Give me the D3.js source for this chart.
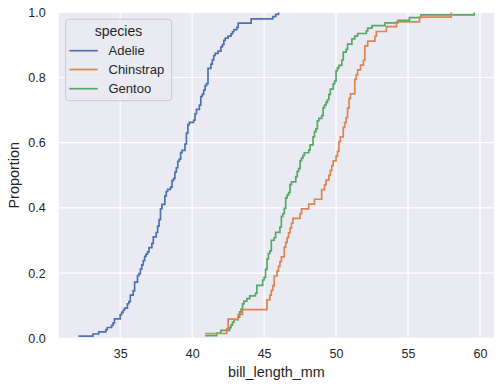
<html>
<head>
<script src="https://d3js.org/d3.v7.min.js"></script>
<style>
    body { margin: 0; background: #fff; }
    text { font-family: "Liberation Sans", Arial, sans-serif; fill: #262626; }
</style>
</head>
<body>
<div id="chart"></div>
<script>
    // bill_length_mm values per species
    const species = ['Adelie', 'Chinstrap', 'Gentoo'];
    const colors = ['#4c72b0', '#dd8452', '#55a868'];

    const adelie = [39.1, 39.5, 40.3, 36.7, 39.3, 38.9, 39.2, 34.1, 42, 37.8,
        37.8, 41.1, 38.6, 34.6, 36.6, 38.7, 42.5, 34.4, 46, 37.8,
        37.7, 35.9, 38.2, 38.8, 35.3, 40.6, 40.5, 37.9, 40.5, 39.5,
        37.2, 39.5, 40.9, 36.4, 39.2, 38.8, 42.2, 37.6, 39.8, 36.5,
        40.8, 36, 44.1, 37, 39.6, 41.1, 37.5, 36, 42.3, 39.6,
        40.1, 35, 42, 34.5, 41.4, 39, 40.6, 36.5, 37.6, 35.7,
        41.3, 37.6, 41.1, 36.4, 41.6, 35.5, 41.1, 35.9, 41.8, 33.5,
        39.7, 39.6, 45.8, 35.5, 42.8, 40.9, 37.2, 36.2, 42.1, 34.6,
        42.9, 36.7, 35.1, 37.3, 41.3, 36.3, 36.9, 38.3, 38.9, 35.7,
        41.1, 34, 39.6, 36.2, 40.8, 38.1, 40.3, 33.1, 43.2, 35,
        41, 37.7, 37.8, 37.9, 39.7, 38.6, 38.2, 38.1, 43.2, 38.1,
        45.6, 39.7, 42.2, 39.6, 42.7, 38.6, 37.3, 35.7, 41.1, 36.2,
        37.7, 40.2, 41.4, 35.2, 40.6, 38.8, 41.5, 39, 44.1, 38.5,
        43.1, 36.8, 37.5, 38.1, 41.1, 35.6, 40.2, 37, 39.7, 40.2,
        40.6, 32.1, 40.7, 37.3, 39, 39.2, 36.6, 36, 37.8, 36, 41.5];

    const chinstrap = [46.5, 50, 51.3, 45.4, 52.7, 45.2, 46.1, 51.3, 46, 51.3,
        46.6, 51.7, 47, 52, 45.9, 50.5, 50.3, 58, 46.4, 49.2,
        42.4, 48.5, 43.2, 50.6, 46.7, 52, 50.5, 49.5, 46.4, 52.8,
        40.9, 54.2, 42.5, 51, 49.7, 47.5, 47.6, 52, 46.9, 53.5,
        49, 46.2, 50.9, 45.5, 50.9, 50.8, 50.1, 49, 51.5, 49.8,
        48.1, 51.4, 45.7, 50.7, 42.5, 52.2, 45.2, 49.3, 50.2, 45.6,
        51.9, 46.8, 45.7, 55.8, 43.5, 49.6, 50.8, 50.2];

    const gentoo = [46.1, 50, 48.7, 50, 47.6, 46.5, 45.4, 46.7, 43.3, 46.8,
        40.9, 49, 45.5, 48.4, 45.8, 49.3, 42, 49.2, 46.2, 48.7,
        50.2, 45.1, 46.5, 46.3, 42.9, 46.1, 44.5, 47.8, 48.2, 50,
        47.3, 42.8, 45.1, 59.6, 49.1, 48.4, 42.6, 44.4, 44, 48.7,
        42.7, 49.6, 45.3, 49.6, 50.5, 43.6, 45.5, 50.5, 44.9, 45.2,
        46.6, 48.5, 45.1, 50.1, 46.5, 45, 43.8, 45.5, 43.2, 50.4,
        45.3, 46.2, 45.7, 54.3, 45.8, 49.8, 46.2, 49.5, 43.5, 50.7,
        47.7, 46.4, 48.2, 46.5, 46.4, 48.6, 47.5, 51.1, 45.2, 45.2,
        49.1, 52.5, 47.4, 50, 44.9, 50.8, 43.4, 51.3, 47.5, 52.1,
        47.5, 52.2, 45.5, 49.5, 44.5, 50.8, 49.4, 46.9, 48.4, 51.1,
        48.5, 55.9, 47.2, 49.1, 47.3, 46.8, 41.7, 53.4, 43.3, 48.1,
        50.5, 49.8, 43.5, 51.5, 46.2, 55.1, 44.5, 48.8, 47.2, 46.8,
        50.4, 45.2, 49.9];

    const xTicks = [35, 40, 45, 50, 55, 60];
    const yTicks = [0, 0.2, 0.4, 0.6, 0.8, 1.0];

    const series = [adelie, chinstrap, gentoo];

    const W = 503, H = 389;
    const plot = { left: 58.7, right: 494, top: 12.3, bottom: 338.3 };

    const allVals = series.flat();
    const xmin = d3.min(allVals), xmax = d3.max(allVals);
    const pad = (xmax - xmin) * 0.05;

    const x = d3.scaleLinear()
        .domain([xmin - pad, xmax + pad])
        .range([plot.left, plot.right]);
    const y = d3.scaleLinear()
        .domain([0, 1])
        .range([plot.bottom, plot.top]);

    const svg = d3.select('#chart').append('svg')
        .attr('width', W)
        .attr('height', H);

    svg.append('rect')
        .attr('x', plot.left).attr('y', plot.top)
        .attr('width', plot.right - plot.left)
        .attr('height', plot.bottom - plot.top)
        .attr('fill', '#eaeaf2');

    svg.append('clipPath').attr('id', 'clip')
        .append('rect')
        .attr('x', plot.left).attr('y', plot.top)
        .attr('width', plot.right - plot.left)
        .attr('height', plot.bottom - plot.top);

    // grid
    svg.append('g').selectAll('line')
        .data(xTicks).enter().append('line')
        .attr('x1', d => x(d)).attr('x2', d => x(d))
        .attr('y1', plot.top).attr('y2', plot.bottom)
        .attr('stroke', '#fff').attr('stroke-width', 1.2);
    svg.append('g').selectAll('line')
        .data(yTicks).enter().append('line')
        .attr('x1', plot.left).attr('x2', plot.right)
        .attr('y1', d => y(d)).attr('y2', d => y(d))
        .attr('stroke', '#fff').attr('stroke-width', 1.2);

    // axes (no tick marks, no domain line)
    const xAxis = svg.append('g')
        .attr('transform', `translate(0,${plot.bottom})`)
        .call(d3.axisBottom(x).tickValues(xTicks).tickSize(0).tickPadding(11).tickFormat(d3.format('d')));
    xAxis.select('.domain').remove();
    xAxis.selectAll('text')
        .style('font-family', '"Liberation Sans", Arial, sans-serif')
        .style('font-size', '12.5px')
        .attr('fill', '#262626');

    const yAxis = svg.append('g')
        .attr('transform', `translate(${plot.left},0)`)
        .call(d3.axisLeft(y).tickValues(yTicks).tickSize(0).tickPadding(13).tickFormat(d3.format('.1f')));
    yAxis.select('.domain').remove();
    yAxis.selectAll('text')
        .style('font-family', '"Liberation Sans", Arial, sans-serif')
        .style('font-size', '12.5px')
        .attr('fill', '#262626');

    // ECDF lines, drawn in reverse hue order like seaborn
    const line = d3.line()
        .x(d => x(d[0]))
        .y(d => y(d[1]))
        .curve(d3.curveStepAfter);

    const lines = svg.append('g').attr('clip-path', 'url(#clip)');
    for (let k = series.length - 1; k >= 0; k--) {
        const sorted = series[k].slice().sort(d3.ascending);
        const n = sorted.length;
        const pts = sorted.map((v, i) => [v, (i + 1) / n]);
        lines.append('path')
            .attr('d', line(pts))
            .attr('fill', 'none')
            .attr('stroke', colors[k])
            .attr('stroke-width', 1.7);
    }

    // axis labels
    svg.append('text')
        .attr('x', (plot.left + plot.right) / 2)
        .attr('y', 377)
        .attr('text-anchor', 'middle')
        .style('font-size', '14.4px')
        .text('bill_length_mm');

    svg.append('text')
        .attr('transform', `translate(19,${(plot.top + plot.bottom) / 2}) rotate(-90)`)
        .attr('text-anchor', 'middle')
        .style('font-size', '14.4px')
        .text('Proportion');

    // legend
    const leg = svg.append('g');
    leg.append('rect')
        .attr('x', 65.7).attr('y', 19.3)
        .attr('width', 106).attr('height', 81.4)
        .attr('rx', 3)
        .attr('fill', '#eaeaf2').attr('fill-opacity', 0.8)
        .attr('stroke', '#cccccc').attr('stroke-width', 1);
    leg.append('text')
        .attr('x', 118.5).attr('y', 36)
        .attr('text-anchor', 'middle')
        .style('font-size', '14px')
        .text('species');
    const rowY = [50.7, 69.5, 88.7];
    species.forEach((s, i) => {
        leg.append('line')
            .attr('x1', 69.3).attr('x2', 97.7)
            .attr('y1', rowY[i]).attr('y2', rowY[i])
            .attr('stroke', colors[i]).attr('stroke-width', 1.7);
        leg.append('text')
            .attr('x', 108.5).attr('y', rowY[i] + 4.6)
            .style('font-size', '13px')
            .text(s);
    });
</script>
</body>
</html>
